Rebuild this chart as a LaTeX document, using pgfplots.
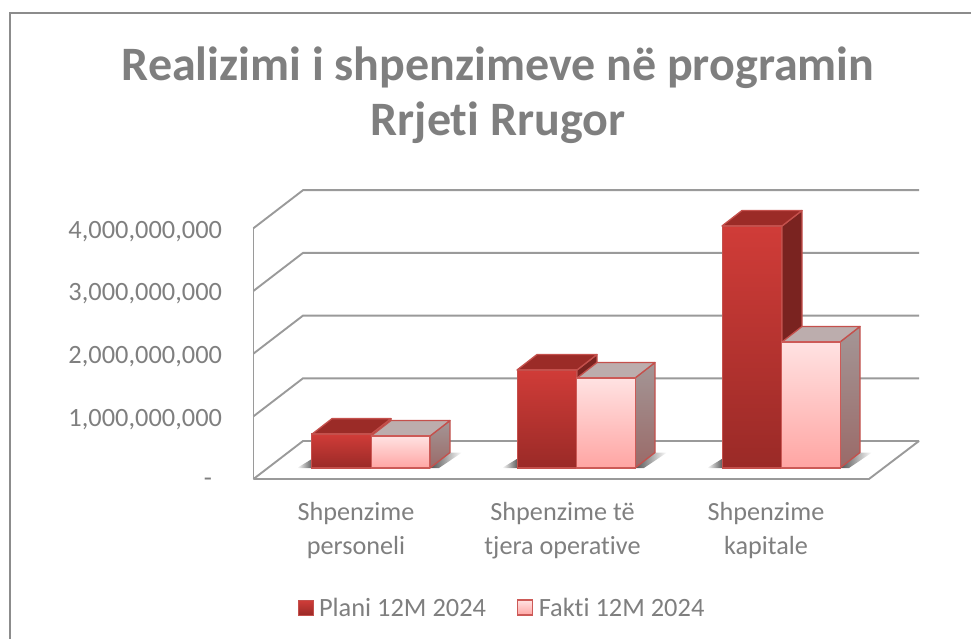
\documentclass[border=0pt]{standalone}
\usepackage{fontspec}
\setmainfont[Ligatures={NoCommon}]{Carlito}
\usepackage{pgfplots}
\pgfplotsset{compat=1.18}
\definecolor{wall}{HTML}{9A9A9A}
\definecolor{txt}{HTML}{7F7F7F}
\definecolor{edgeP}{HTML}{C4504C}
\definecolor{edgeF}{HTML}{CC5A57}
\definecolor{P1}{HTML}{D03C38}
\definecolor{P2}{HTML}{9A2A27}
\definecolor{P3top}{HTML}{9B2B27}
\definecolor{P3side}{HTML}{7A2320}
\definecolor{F1}{HTML}{FFE2E2}
\definecolor{F2}{HTML}{FFA5A3}
\definecolor{F3top}{HTML}{BCADAD}
\definecolor{F3sidea}{HTML}{A49696}
\definecolor{F3sideb}{HTML}{9A6A68}
\newcommand\boxfaces[6]{% x0, x1, value(e9), top colour, side top colour, side bottom colour
  \pgfmathsetmacro\ya{#3+0.1754}%
  \pgfmathsetmacro\yb{#3+0.1754+0.2472}%
  \pgfmathsetmacro\xa{#1+20}%
  \pgfmathsetmacro\xb{#2+20}%
  \addplot[forget plot,draw=edgeP,line width=1.3pt,line join=round,top color=#5,bottom color=#6] coordinates {(#2,0.1754e9)(#2,\ya e9)(\xb,\yb e9)(\xb,0.4226e9)} --cycle;
  \addplot[forget plot,draw=edgeP,line width=1.3pt,line join=round,fill=#4] coordinates {(#1,\ya e9)(#2,\ya e9)(\xb,\yb e9)(\xa,\yb e9)} --cycle;
}
\newcommand\floorshadow[2]{%
  \pgfmathsetmacro\xc{#1-15}\pgfmathsetmacro\xd{#2+20}\pgfmathsetmacro\xe{#2+32}\pgfmathsetmacro\xf{#2+9}%
  \addplot[forget plot,draw=none,left color=white,right color=black!62] coordinates {(\xc,0.1754e9)(#1,0.1754e9)(#1,0.32e9)} --cycle;
  \addplot[forget plot,draw=none,left color=black!68,right color=white] coordinates {(#2,0.1754e9)(\xd,0.4226e9)(\xe,0.4226e9)(\xf,0.1754e9)} --cycle;
}
\pgfplotsset{
  planibar/.style={ybar,bar width=59.5pt,bar shift=0pt,yshift=11pt,draw=edgeP,line width=1.3pt,top color=P1,bottom color=P2},
  faktibar/.style={ybar,bar width=58.5pt,bar shift=0pt,yshift=11pt,draw=edgeF,line width=1.3pt,top color=F1,bottom color=F2},
}
\begin{document}
\begin{tikzpicture}
\begin{axis}[
  scale only axis, width=615.5pt, height=250.8pt,
  xmin=253.5, xmax=869, ymin=0, ymax=4000000000,
  clip=false, axis line style={draw=none}, tick style={draw=none},
  scaled y ticks=false,
  ytick={0,1000000000,2000000000,3000000000,4000000000},
  yticklabels={\mbox{-\kern10pt},{1,000,000,000},{2,000,000,000},{3,000,000,000},{4,000,000,000}},
  yticklabel style={font=\fontsize{26.4}{26.4}\selectfont,text=txt,xshift=-28pt,yshift=-3pt},
  xtick={356,562.5,766},
  xticklabels={{Shpenzime\\personeli},{Shpenzime të\\tjera operative},{Shpenzime\\kapitale}},
  xticklabel style={font=\fontsize{26.2}{33.5}\selectfont,text=txt,align=center,yshift=-20pt},
  legend style={at={(axis cs:502,-2060000000)},anchor=center,draw=none,fill=none,
    font=\fontsize{26.4}{26.4}\selectfont,text=txt,legend columns=2,
    /tikz/every even column/.append style={column sep=29pt}},
  legend cell align=left,
]
% walls
\addplot[forget plot,wall,line width=1.9pt] coordinates {(253.5,0)(253.5,4000000000)};
\addplot[forget plot,wall,line width=1.9pt,line join=round] coordinates {(253.5,0)(303,606000000)(919,606000000)};
\addplot[forget plot,wall,line width=1.9pt] coordinates {(253.5,1000000000)(303,1606000000)(919,1606000000)};
\addplot[forget plot,wall,line width=1.9pt] coordinates {(253.5,2000000000)(303,2606000000)(919,2606000000)};
\addplot[forget plot,wall,line width=1.9pt] coordinates {(253.5,3000000000)(303,3606000000)(919,3606000000)};
\addplot[forget plot,wall,line width=1.9pt] coordinates {(253.5,4000000000)(303,4606000000)(919,4606000000)};
\addplot[forget plot,wall,line width=1.9pt,line join=round] coordinates {(253.5,0)(869,0)(919,606000000)};
% floor shadows
\floorshadow{312}{430}
\floorshadow{517}{635}
\floorshadow{722}{840}
% Plani 12M 2024
\boxfaces{312}{371}{0.54}{P3top}{P3side}{P3side}
\boxfaces{517}{577}{1.563}{P3top}{P3side}{P3side}
\boxfaces{722}{782}{3.86}{P3top}{P3side}{P3side}
\addplot[planibar,
  legend image code/.code={\path[draw=none] (0pt,-10pt) -- (19pt,-10pt);\draw[draw=edgeP,line width=.8pt,top color=P1,bottom color=P2] (0pt,-18pt) rectangle (15pt,-3pt);}]
  coordinates {(341.5,540000000)};
\addlegendentry{Plani 12M 2024}
\addplot[planibar,forget plot] coordinates {(547,1563000000)};
\addplot[planibar,forget plot] coordinates {(752,3860000000)};
% Fakti 12M 2024
\boxfaces{371}{430}{0.51}{F3top}{F3sidea}{F3sideb}
\boxfaces{577}{635}{1.435}{F3top}{F3sidea}{F3sideb}
\boxfaces{782}{840}{2.01}{F3top}{F3sidea}{F3sideb}
\addplot[faktibar,
  legend image code/.code={\path[draw=none] (0pt,-10pt) -- (19pt,-10pt);\draw[draw=edgeF,line width=1.4pt,top color=F1,bottom color=F2] (0pt,-18pt) rectangle (15pt,-3pt);}]
  coordinates {(400.5,510000000)};
\addlegendentry{Fakti 12M 2024}
\addplot[faktibar,forget plot] coordinates {(606,1435000000)};
\addplot[faktibar,forget plot] coordinates {(811,2010000000)};
\node[font=\bfseries\fontsize{48}{55}\selectfont,text=txt,align=center] at (axis cs:498,6124000000)
  {Realizimi i shpenzimeve në programin\\Rrjeti Rrugor};
\end{axis}
\draw[draw=txt!90,line width=1.9pt] (-243.5pt,-170pt) rectangle (730pt,466pt);
\pgfresetboundingbox
\path[use as bounding box] (-253.5pt,-160pt) rectangle (717.5pt,479pt);
\end{tikzpicture}
\end{document}
